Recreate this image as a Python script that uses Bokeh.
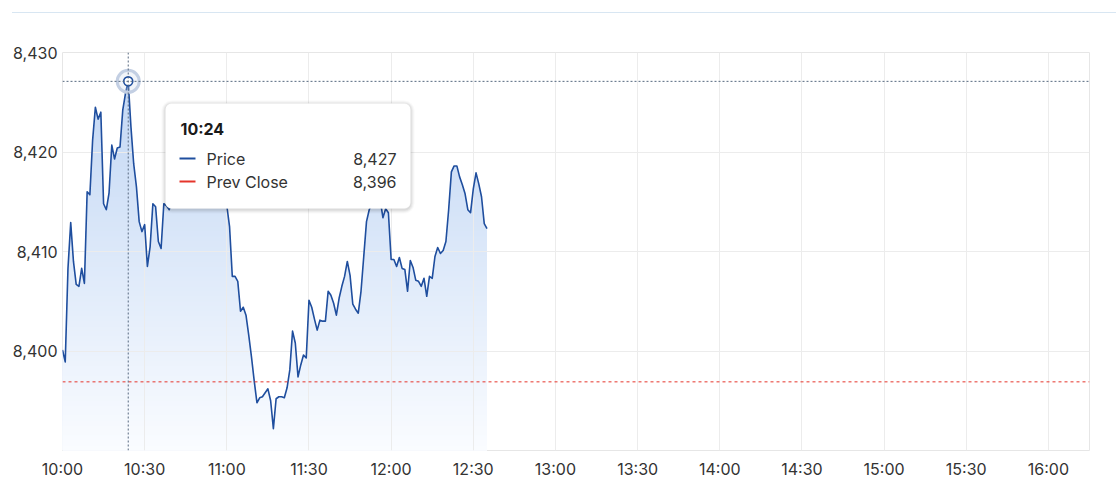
import numpy as np
from bokeh.plotting import figure
from bokeh.models import Span, BoxAnnotation, Label, FixedTicker, NumeralTickFormatter, Range1d, InlineStyleSheet
from bokeh.embed import file_html
from bokeh.resources import INLINE

# ---------------- data ----------------
# minutes after 10:00 (one point per minute, 10:00 .. 12:35)
minutes = list(range(156))
price = [
    8400.1, 8398.9, 8408.3, 8412.9, 8409.0, 8406.7, 8406.5, 8408.3, 8406.8, 8416.0,
    8415.7, 8421.2, 8424.5, 8423.3, 8424.0, 8414.8, 8414.2, 8415.9, 8420.7, 8419.3,
    8420.4, 8420.5, 8424.2, 8425.9, 8427.1, 8422.5, 8418.8, 8416.5, 8413.0, 8412.0,
    8412.7, 8408.5, 8410.5, 8414.8, 8414.5, 8411.0, 8410.3, 8414.8, 8414.6, 8414.2,
    8415.6, 8416.2, 8415.8, 8417.0, 8416.5, 8417.8, 8418.3, 8417.6, 8418.9, 8418.2,
    8417.4, 8417.9, 8416.8, 8417.5, 8416.9, 8417.2, 8416.4, 8416.9, 8415.9, 8415.6,
    8414.6, 8412.5, 8407.5, 8407.5, 8407.0, 8404.0, 8404.4, 8403.6, 8401.6, 8399.4,
    8397.0, 8394.8, 8395.3, 8395.4, 8395.8, 8396.2, 8395.0, 8392.2, 8395.2, 8395.4,
    8395.4, 8395.3, 8396.3, 8398.1, 8402.0, 8400.8, 8397.4, 8398.6, 8399.6, 8399.3,
    8405.1, 8404.4, 8403.2, 8402.1, 8403.1, 8403.0, 8403.0, 8406.0, 8405.6, 8404.8,
    8403.6, 8405.3, 8406.5, 8407.5, 8409.0, 8407.6, 8404.7, 8404.2, 8403.8, 8406.0,
    8409.5, 8413.0, 8414.2, 8414.8, 8415.3, 8415.8, 8415.2, 8413.4, 8414.3, 8413.9,
    8409.2, 8409.2, 8408.5, 8409.4, 8408.3, 8408.2, 8406.0, 8409.1, 8408.4, 8407.1,
    8407.0, 8406.5, 8407.3, 8405.5, 8407.5, 8407.3, 8409.5, 8410.4, 8409.8, 8410.1,
    8411.0, 8414.2, 8418.0, 8418.6, 8418.6, 8417.5, 8416.7, 8415.8, 8414.2, 8413.9,
    8416.3, 8417.9, 8416.8, 8415.5, 8412.8, 8412.3,
]
prev_close = 8396.9
tick_minutes = [0, 30, 60, 90, 120, 150, 180, 210, 240, 270, 300, 330, 360]
tick_labels = ["10:00", "10:30", "11:00", "11:30", "12:00", "12:30", "13:00",
               "13:30", "14:00", "14:30", "15:00", "15:30", "16:00"]
y_ticks = [8400, 8410, 8420, 8430]
hover_idx = 24
hover_label = "10:24"
series_names = ["Price", "Prev Close"]

# ---------------- styling ----------------
FONT = "Inter"
LINE_COLOR = "#1f4e9e"
RED = "#e5352b"
TEXT = "#333333"
X0, X1 = 0, 375
Y0, Y1 = 8390, 8430
W, H = 1116, 488
ML, MR, MT, MB = 62, 27, 52, 38
FW, FH = W - ML - MR, H - MT - MB
ppx = FW / (X1 - X0)
ppy = FH / (Y1 - Y0)

def fx(px):  # frame px -> data x
    return X0 + px / ppx

def fy(py):  # frame px (from top) -> data y
    return Y1 - py / ppy

p = figure(width=W, height=H, output_backend="svg", toolbar_location=None,
           x_range=Range1d(X0, X1), y_range=Range1d(Y0, Y1),
           min_border_left=ML, min_border_right=MR, min_border_top=MT, min_border_bottom=MB)
p.background_fill_color = "white"
p.border_fill_color = "white"
p.outline_line_color = "#e6e6e6"
p.outline_line_width = 1
p.stylesheets = [InlineStyleSheet(css="""
:host { position: relative; }
:host::after { content: ''; position: absolute; left: 12px; right: 0px; top: 12px;
  height: 1px; background: #d8e6f2; pointer-events: none; }
""")]

# axes
p.xaxis.ticker = FixedTicker(ticks=tick_minutes)
p.xaxis.major_label_overrides = {m: l for m, l in zip(tick_minutes, tick_labels)}
p.yaxis.ticker = FixedTicker(ticks=y_ticks)
p.yaxis.formatter = NumeralTickFormatter(format="0,0")
for ax in (p.xaxis[0], p.yaxis[0]):
    ax.axis_line_color = None
    ax.major_tick_line_color = None
    ax.minor_tick_line_color = None
    ax.major_tick_out = 0
    ax.major_tick_in = 0
    ax.major_label_text_font = FONT
    ax.major_label_text_font_size = "16px"
    ax.major_label_text_color = TEXT
p.xaxis.major_label_standoff = 8
p.yaxis.major_label_standoff = 5
p.xgrid.ticker = FixedTicker(ticks=tick_minutes)
p.ygrid.ticker = FixedTicker(ticks=y_ticks)
p.xgrid.grid_line_color = "#ececec"
p.ygrid.grid_line_color = "#ececec"

# gradient area fill (stacked bands, drawn top-down)
x = np.array(minutes, dtype=float)
y = np.array(price)
top_c = np.array([0xc2, 0xd7, 0xf4], dtype=float)
bot_c = np.array([0xfa, 0xfc, 0xff], dtype=float)
ymax = y.max()
levels = np.arange(Y0 + 0.5, np.ceil(ymax) + 0.51, 0.5)[::-1]
for L in levels:
    t = np.clip((min(L, ymax) - 0.25 - Y0) / (ymax - Y0), 0, 1)
    c = bot_c + (top_c - bot_c) * t
    col = "#%02x%02x%02x" % tuple(int(round(v)) for v in c)
    r = p.varea(x=x, y1=np.full_like(y, Y0), y2=np.minimum(y, L), fill_color=col, fill_alpha=1.0)
    r.level = "image"

# prev close line
p.add_layout(Span(location=prev_close, dimension="width", line_color=RED,
                  line_dash="3 3", line_width=1))

# price line
p.line(x, y, line_color=LINE_COLOR, line_width=1.6, line_join="round")

# crosshair
hx, hy = minutes[hover_idx], price[hover_idx]
p.add_layout(Span(location=hx, dimension="height", line_color="#56687f",
                  line_dash="2 2", line_width=1))
p.add_layout(Span(location=hy, dimension="width", line_color="#56687f",
                  line_dash="2 2", line_width=1))

# hover marker
p.scatter([hx], [hy], size=22, fill_color="#c9d4e6", fill_alpha=0.25,
          line_color="#c3cfe3", line_width=3)
p.scatter([hx], [hy], size=9, fill_color="white", line_color=LINE_COLOR, line_width=1.6)

# tooltip (frame pixel layout relative to frame top-left)
tl, tr, tt, tb = 103, 348, 51, 156
for k, a in ((4, 0.025), (3, 0.03), (2, 0.04), (1, 0.05)):
    p.add_layout(BoxAnnotation(left=fx(tl - k), right=fx(tr + k), top=fy(tt - k + 1), bottom=fy(tb + k + 1),
                               fill_color="black", fill_alpha=a, line_color=None,
                               border_radius=6 + k, level="annotation"))
p.add_layout(BoxAnnotation(left=fx(tl), right=fx(tr), top=fy(tt), bottom=fy(tb),
                           fill_color="white", fill_alpha=1, line_color="#f0f0f0",
                           border_radius=6, level="annotation"))

p.add_layout(Label(x=fx(118), y=fy(76), text=hover_label, text_font=FONT,
                   text_font_size="16px", text_font_style="bold", text_color="#1a1a1a",
                   text_baseline="middle", text_align="left", level="overlay"))
row_vals = [price[hover_idx], prev_close]
row_cols = [LINE_COLOR, RED]
for i, (name, v, col) in enumerate(zip(series_names, row_vals, row_cols)):
    ry = 106 + 23 * i
    seg = p.segment(x0=[fx(117)], y0=[fy(ry)], x1=[fx(133)], y1=[fy(ry)],
                    line_color=col, line_width=2)
    seg.level = "overlay"
    p.add_layout(Label(x=fx(144), y=fy(ry), text=name, text_font=FONT,
                       text_font_size="16px", text_color=TEXT,
                       text_baseline="middle", text_align="left", level="overlay"))
    p.add_layout(Label(x=fx(334), y=fy(ry), text=f"{int(v):,}", text_font=FONT,
                       text_font_size="16px", text_color=TEXT,
                       text_baseline="middle", text_align="right", level="overlay"))

open("out.html", "w").write(file_html(p, INLINE))
